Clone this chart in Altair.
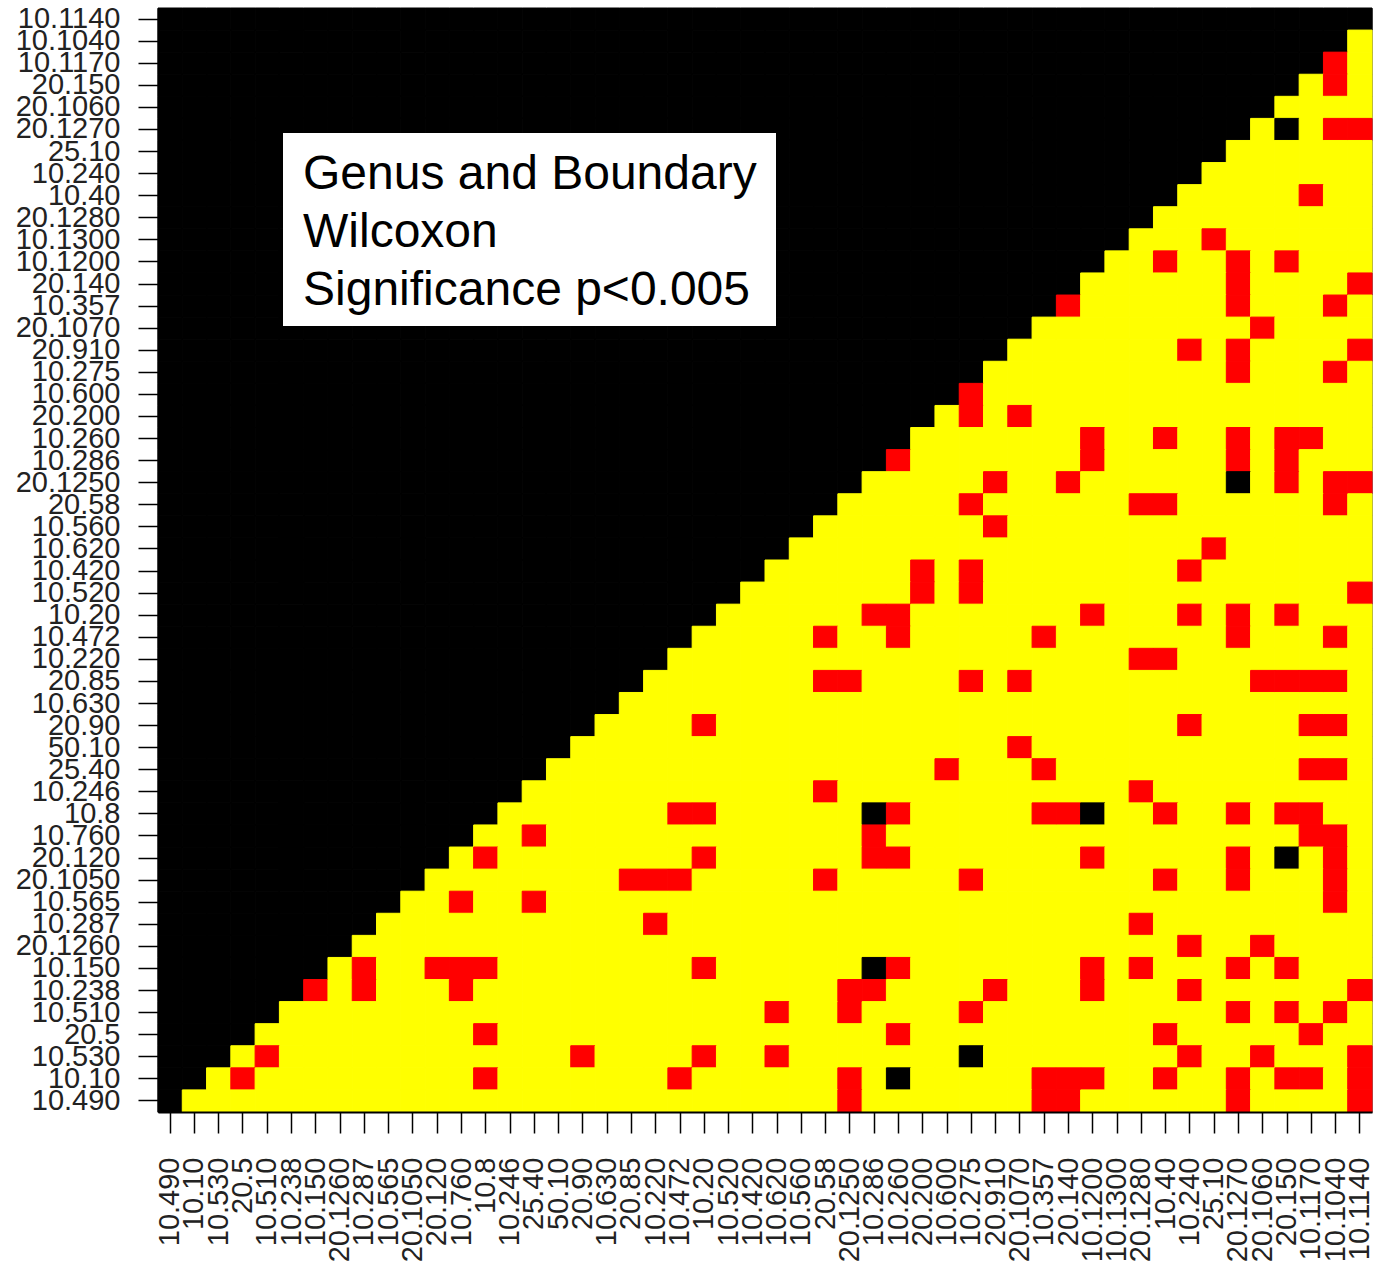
import altair as alt
import pandas as pd

# Column order (left to right); rows use the reverse order (top to bottom)
labels = ["10.490", "10.10", "10.530", "20.5", "10.510", "10.238", "10.150", "20.1260",
          "10.287", "10.565", "20.1050", "20.120", "10.760", "10.8", "10.246", "25.40",
          "50.10", "20.90", "10.630", "20.85", "10.220", "10.472", "10.20", "10.520",
          "10.420", "10.620", "10.560", "20.58", "20.1250", "10.286", "10.260", "20.200",
          "10.600", "10.275", "20.910", "20.1070", "10.357", "20.140", "10.1200", "10.1300",
          "20.1280", "10.40", "10.240", "25.10", "20.1270", "20.1060", "20.150", "10.1170",
          "10.1040", "10.1140"]
row_labels = labels[::-1]

# significant (red) cells: row index from top -> column indices
sig_rows = {
    2: [48], 3: [48], 5: [48, 49], 8: [47], 10: [43], 11: [41, 44, 46],
    12: [44, 49], 13: [37, 44, 48], 14: [45], 15: [42, 44, 49], 16: [44, 48],
    17: [33], 18: [33, 35], 19: [38, 41, 44, 46, 47], 20: [30, 38, 44, 46],
    21: [34, 37, 46, 48, 49], 22: [33, 40, 41, 48], 23: [34], 24: [43],
    25: [31, 33, 42], 26: [31, 33, 49], 27: [29, 30, 38, 42, 44, 46],
    28: [27, 30, 36, 44, 48], 29: [40, 41], 30: [27, 28, 33, 35, 45, 46, 47, 48],
    32: [22, 42, 47, 48], 33: [35], 34: [32, 36, 47, 48], 35: [27, 40],
    36: [21, 22, 30, 36, 37, 41, 44, 46, 47], 37: [15, 29, 47, 48],
    38: [13, 22, 29, 30, 38, 44, 48], 39: [19, 20, 21, 27, 33, 41, 44, 48],
    40: [12, 15, 48], 41: [20, 40], 42: [42, 45],
    43: [8, 11, 12, 13, 22, 30, 38, 40, 44, 46],
    44: [6, 8, 12, 28, 29, 34, 38, 42, 49], 45: [25, 28, 33, 44, 46, 48],
    46: [13, 30, 41, 47], 47: [4, 17, 22, 25, 42, 45, 49],
    48: [3, 13, 21, 28, 36, 37, 38, 41, 44, 46, 47, 49],
    49: [28, 36, 37, 44, 49],
}
# missing (black) cells inside the lower triangle: (column, row from top)
na_cells = [(46, 5), (44, 21), (29, 36), (38, 36), (46, 38), (29, 43), (33, 47), (30, 48)]

note_lines = ["Genus and Boundary", "Wilcoxon", "Significance p<0.005"]

status_domain = ["hidden", "NA", "significant", "not significant"]
status_range = ["#000000", "#000000", "#FF0000", "#FFFF00"]

na_set = set(na_cells)
records = []
n = len(labels)
for j, ylab in enumerate(row_labels):
    for c, xlab in enumerate(labels):
        if c + j < n:
            status = "hidden"
        elif (c, j) in na_set:
            status = "NA"
        elif c in sig_rows.get(j, []):
            status = "significant"
        else:
            status = "not significant"
        records.append({"x": xlab, "y": ylab, "status": status})
df = pd.DataFrame(records)

FONT = "Liberation Sans"

heat = alt.Chart(df).mark_rect(strokeWidth=1).encode(
    x=alt.X("x:N", sort=labels, scale=alt.Scale(paddingInner=0, paddingOuter=0),
            axis=alt.Axis(title=None, labelAngle=270, labelFontSize=29, labelPadding=24,
                          tickSize=21, labelOverlap=False)),
    y=alt.Y("y:N", sort=row_labels, scale=alt.Scale(paddingInner=0, paddingOuter=0),
            axis=alt.Axis(title=None, labelFontSize=29, labelPadding=18,
                          tickSize=20, labelOverlap=False)),
    color=alt.Color("status:N", scale=alt.Scale(domain=status_domain, range=status_range),
                    legend=None),
    stroke=alt.Stroke("status:N", scale=alt.Scale(domain=status_domain, range=status_range),
                      legend=None),
)

box = alt.Chart(pd.DataFrame({"k": [0]})).mark_rect(color="white").encode(
    x=alt.value(125), x2=alt.value(618), y=alt.value(125), y2=alt.value(318)
)

note = alt.Chart(pd.DataFrame({"t": ["\n".join(note_lines)]})).mark_text(
    align="left", baseline="alphabetic", fontSize=48, lineHeight=58, lineBreak="\n",
    font=FONT, color="black"
).encode(text="t:N", x=alt.value(145), y=alt.value(181))

chart = alt.layer(heat, box, note).properties(
    width=1214, height=1104,
    padding={"left": 158, "top": 8, "right": 2, "bottom": 150},
    autosize=alt.AutoSizeParams(type="none"),
).configure_axis(
    labelFont=FONT, labelColor="#222222", domainColor="black", domainWidth=2,
    tickColor="black", tickWidth=1.5,
).configure_view(stroke="#777777", strokeWidth=1)

chart.save("out.html", embed_options={"renderer": "svg", "actions": False})
